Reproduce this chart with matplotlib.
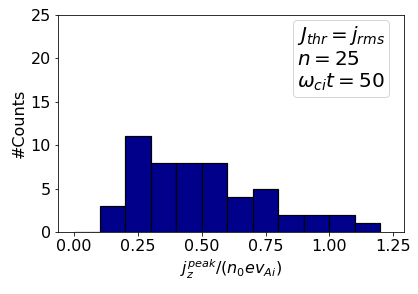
import matplotlib
matplotlib.use('Agg')
import matplotlib.pyplot as plt
import numpy as np

# histogram bins and counts
bin_edges = [0.0, 0.1, 0.2, 0.3, 0.4, 0.5, 0.6, 0.7, 0.8, 0.9, 1.0, 1.1, 1.2]
counts = [0, 3, 11, 8, 8, 8, 4, 5, 2, 2, 2, 1]

plt.rcParams['font.size'] = 16

fig, ax = plt.subplots(figsize=(418 / 72, 294 / 72), dpi=72)
ax.hist(bin_edges[:-1], bins=bin_edges, weights=counts,
        color='darkblue', edgecolor='black', linewidth=1.2)

ax.set_xlim(-0.063, 1.293)
ax.set_ylim(0, 25)
ax.set_yticks([0, 5, 10, 15, 20, 25])
ax.set_xticks([0.0, 0.25, 0.5, 0.75, 1.0, 1.25])
ax.set_xlabel(r'$j_z^{peak}/(n_0ev_{Ai})$')
ax.set_ylabel('#Counts')

# legend with only text
h, = ax.plot([], [], ' ')
leg = ax.legend([h], [r'$J_{thr}=j_{rms}$' + '\n' + r'$n=25$' + '\n' + r'$\omega_{ci}t=50$'],
                loc='upper right', bbox_to_anchor=(0.957, 0.977), borderaxespad=0,
                handlelength=0, handletextpad=0, borderpad=0.2, fontsize=20)

fig.subplots_adjust(left=0.139, right=0.967, top=0.949, bottom=0.211)
fig.savefig('out.png', dpi=72)
